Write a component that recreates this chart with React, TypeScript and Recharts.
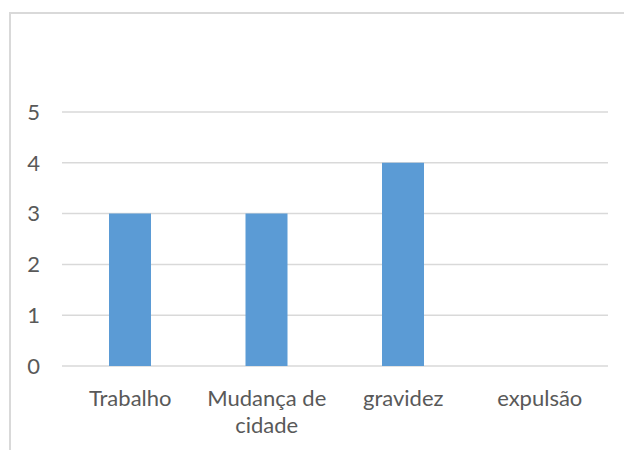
import React from "react";
import { BarChart, Bar, XAxis, YAxis, CartesianGrid } from "recharts";

const categories = ["Trabalho", "Mudança de cidade", "gravidez", "expulsão"];
const values = [3, 3, 4, 0];
const yTicks = [0, 1, 2, 3, 4, 5];

const data = categories.map((c, i) => ({ name: c, value: values[i] }));

const FONT = "Lato, 'Open Sans', sans-serif";
const TEXT = "#595959";

function splitLabel(s: string): string[] {
  const words = s.split(" ");
  const lines: string[] = [];
  let cur = "";
  for (const w of words) {
    const next = cur ? cur + " " + w : w;
    if (next.length > 11 && cur) {
      lines.push(cur);
      cur = w;
    } else {
      cur = next;
    }
  }
  if (cur) lines.push(cur);
  return lines;
}

const XTick = (props: any) => {
  const { x, y, payload } = props;
  const lines = splitLabel(String(payload.value));
  return (
    <text x={x} y={y} textAnchor="middle" fill={TEXT} fontSize={22} fontFamily={FONT}>
      {lines.map((l, i) => (
        <tspan key={i} x={x} y={y + 32 + i * 27}>
          {l}
        </tspan>
      ))}
    </text>
  );
};

export default function App() {
  return (
    <div style={{ position: "absolute", left: 0, top: 0, width: 624, height: 450, background: "#fff", overflow: "hidden" }}>
      <div
        style={{
          position: "absolute",
          left: 9,
          top: 12,
          width: 800,
          height: 600,
          borderTop: "2px solid #d9d9d9",
          borderLeft: "2px solid #d9d9d9",
        }}
      />
      <div style={{ position: "absolute", left: 0, top: 0 }}>
        <BarChart width={624} height={450} data={data} margin={{ top: 112, right: 16, left: 0, bottom: 24 }}>
          <CartesianGrid vertical={false} stroke="#d9d9d9" strokeWidth={1.5} />
          <XAxis
            dataKey="name"
            axisLine={false}
            tickLine={false}
            height={60}
            interval={0}
            tick={<XTick />}
          />
          <YAxis
            width={62}
            domain={[0, 5]}
            ticks={yTicks}
            axisLine={false}
            tickLine={false}
            tickMargin={16}
            tick={{ fill: TEXT, fontSize: 22, fontFamily: FONT }}
          />
          <Bar dataKey="value" fill="#5b9bd5" barSize={42} isAnimationActive={false} />
        </BarChart>
      </div>
    </div>
  );
}
